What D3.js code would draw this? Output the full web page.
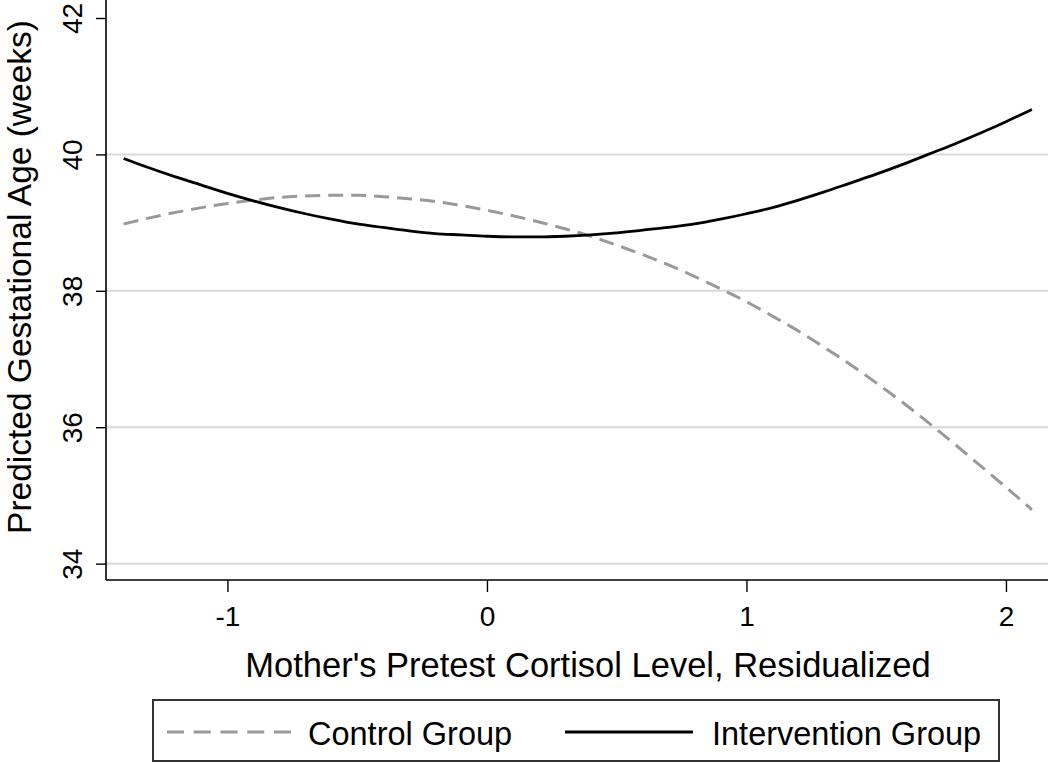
<!DOCTYPE html>
<html>
<head>
<meta charset="utf-8">
<script src="https://cdn.jsdelivr.net/npm/d3@7"></script>
<style>
  html, body { margin: 0; padding: 0; background: #fff; }
  svg { display: block; }
  text { font-family: "Liberation Sans", Arial, Helvetica, sans-serif; fill: #000; }
</style>
</head>
<body>
<svg id="chart" width="1050" height="763"></svg>
<script>
// ---- data ----
const xValues = [-1.4,-1.3,-1.2,-1.1,-1.0,-0.9,-0.8,-0.7,-0.6,-0.5,-0.4,-0.3,-0.2,-0.1,0.0,0.1,0.2,0.3,0.4,0.5,0.6,0.7,0.8,0.9,1.0,1.1,1.2,1.3,1.4,1.5,1.6,1.7,1.8,1.9,2.0,2.1];
const controlValues = [38.98,39.07,39.15,39.22,39.28,39.33,39.37,39.39,39.40,39.40,39.38,39.35,39.31,39.25,39.18,39.10,39.01,38.91,38.80,38.67,38.53,38.38,38.21,38.03,37.84,37.63,37.41,37.17,36.92,36.65,36.37,36.07,35.76,35.44,35.12,34.79];
const interventionValues = [39.94,39.80,39.67,39.55,39.43,39.32,39.22,39.13,39.05,38.98,38.93,38.88,38.84,38.82,38.80,38.79,38.79,38.80,38.82,38.85,38.89,38.93,38.98,39.05,39.13,39.22,39.33,39.45,39.58,39.71,39.85,40.00,40.15,40.31,40.48,40.66];
const xTicks = [-1, 0, 1, 2];
const yTicks = [34, 36, 38, 40, 42];
const gridValues = [34, 36, 38, 40];
const seriesNames = ["Control Group", "Intervention Group"];
const xTitle = "Mother's Pretest Cortisol Level, Residualized";
const yTitle = "Predicted Gestational Age (weeks)";

// ---- layout ----
const svg = d3.select("#chart");
const plotLeft = 106, plotRight = 1048, plotTop = 0, plotBottom = 580;

const x = d3.scaleLinear().domain([-1.468, 2.162]).range([plotLeft, plotRight]);
const y = d3.scaleLinear().domain([33.76, 42.264]).range([plotBottom, plotTop]);
const fmt = d => String(d);

// gridlines
svg.append("g").selectAll("line").data(gridValues).join("line")
  .attr("x1", plotLeft).attr("x2", plotRight)
  .attr("y1", d => y(d)).attr("y2", d => y(d))
  .attr("stroke", "#d9d9d9").attr("stroke-width", 2);

// y axis
const yAxis = svg.append("g").attr("transform", `translate(${plotLeft},0)`)
  .call(d3.axisLeft(y).tickValues(yTicks).tickSize(10).tickSizeOuter(0).tickFormat(fmt));
yAxis.select(".domain").attr("stroke", "#000").attr("stroke-width", 1.6)
  .attr("d", `M0,${plotTop}V${plotBottom}`);
yAxis.selectAll(".tick line").attr("stroke", "#000").attr("stroke-width", 1.4);
yAxis.selectAll(".tick text")
  .attr("x", 0).attr("dy", 0)
  .attr("transform", "translate(-24,0) rotate(-90)")
  .attr("text-anchor", "middle")
  .style("font-size", "28px")
  .style("font-family", "'Liberation Sans', Arial, sans-serif")
  .attr("fill", "#000");

// x axis
const xAxis = svg.append("g").attr("transform", `translate(0,${plotBottom})`)
  .call(d3.axisBottom(x).tickValues(xTicks).tickSize(12).tickSizeOuter(0).tickFormat(fmt));
xAxis.select(".domain").attr("stroke", "#000").attr("stroke-width", 1.6)
  .attr("d", `M${plotLeft},0H${plotRight}`);
xAxis.selectAll(".tick line").attr("stroke", "#000").attr("stroke-width", 1.4);
xAxis.selectAll(".tick text")
  .attr("y", 46).attr("dy", 0)
  .style("font-size", "28px")
  .style("font-family", "'Liberation Sans', Arial, sans-serif")
  .attr("fill", "#000");

// axis titles
svg.append("text").attr("x", 588).attr("y", 677)
  .attr("text-anchor", "middle").style("font-size", "34.5px").text(xTitle);
svg.append("text").attr("transform", "translate(30.5,277) rotate(-90)")
  .attr("text-anchor", "middle").style("font-size", "33.5px").text(yTitle);

// lines
const line = d3.line().x(d => x(d[0])).y(d => y(d[1])).curve(d3.curveMonotoneX);
const controlPts = xValues.map((v, i) => [v, controlValues[i]]);
const interventionPts = xValues.map((v, i) => [v, interventionValues[i]]);

svg.append("path").datum(controlPts).attr("d", line)
  .attr("fill", "none").attr("stroke", "#999999").attr("stroke-width", 3)
  .attr("stroke-dasharray", "15,8");
svg.append("path").datum(interventionPts).attr("d", line)
  .attr("fill", "none").attr("stroke", "#000").attr("stroke-width", 2.8);

// legend
const lg = svg.append("g");
lg.append("rect").attr("x", 153).attr("y", 700).attr("width", 846).attr("height", 61)
  .attr("fill", "#fff").attr("stroke", "#333").attr("stroke-width", 2);
lg.append("line").attr("x1", 167).attr("x2", 291).attr("y1", 732).attr("y2", 732)
  .attr("stroke", "#999999").attr("stroke-width", 3).attr("stroke-dasharray", "17,9.75");
lg.append("text").attr("x", 308).attr("y", 745).style("font-size", "32.5px").text(seriesNames[0]);
lg.append("line").attr("x1", 565).attr("x2", 693).attr("y1", 732).attr("y2", 732)
  .attr("stroke", "#000").attr("stroke-width", 2.8);
lg.append("text").attr("x", 712).attr("y", 745).style("font-size", "32.5px").text(seriesNames[1]);
</script>
</body>
</html>
